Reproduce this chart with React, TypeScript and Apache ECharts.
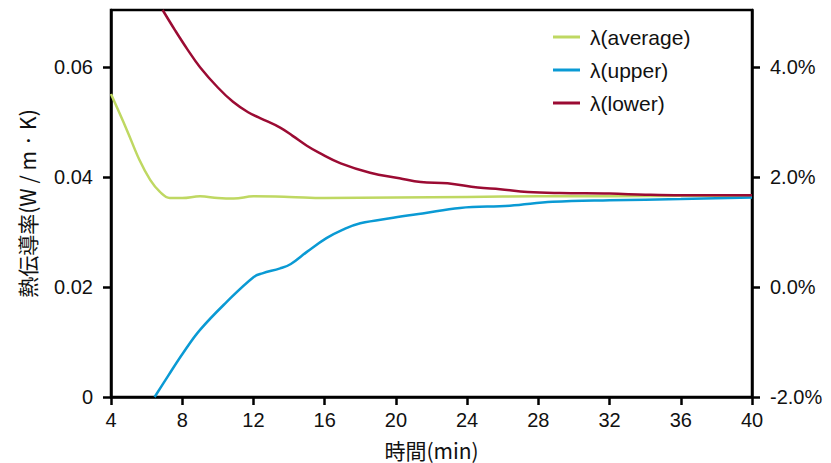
import React, { useEffect, useRef } from "react";
import * as echarts from "echarts";

const avgData: [number, number][] = [
  [4, 0.0551], [4.9, 0.0485], [5.6, 0.0431], [6.2, 0.0395], [6.75, 0.0373],
  [7.3, 0.0362], [8, 0.0362], [9, 0.0365], [10, 0.0362], [10.9, 0.0361], [12, 0.0365],
  [14, 0.0364], [16, 0.0362], [20, 0.0363], [24, 0.0364], [28, 0.0365], [32, 0.0365],
  [36, 0.0366], [40, 0.0366],
];
const upperData: [number, number][] = [
  [6.45, 0.0], [7.2, 0.0038], [8.05, 0.0080], [9, 0.0122], [10.5, 0.0173], [12, 0.0218],
  [12.5, 0.0225], [13.5, 0.0234], [14.1, 0.0242], [15, 0.0264], [16.1, 0.0289], [17, 0.0304],
  [18, 0.0316], [19.85, 0.0326], [21.5, 0.0334], [23.6, 0.0344], [26.4, 0.0348], [28.8, 0.0355],
  [32, 0.0358], [36, 0.0360], [40, 0.0363],
];
const lowerData: [number, number][] = [
  [6.9, 0.0704], [7.6, 0.0667], [8.3, 0.0632], [9, 0.0600], [10, 0.0563], [10.85, 0.0537],
  [11.7, 0.0518], [12.4, 0.0507], [13.5, 0.0490], [14.2, 0.0475], [15, 0.0457], [15.7, 0.0444],
  [16.9, 0.0425], [18.55, 0.0408], [20.2, 0.0398], [21.4, 0.0391], [22.9, 0.0389], [24.6, 0.0381],
  [25.85, 0.0378], [27.4, 0.0373], [29.2, 0.0371], [32, 0.0370], [34, 0.0368], [36, 0.0367],
  [38, 0.0367], [40, 0.0367],
];

const xTicks = [4, 8, 12, 16, 20, 24, 28, 32, 36, 40];
const leftTicks = [0, 0.02, 0.04, 0.06];
const rightTicks = [-2, 0, 2, 4];
const seriesNames = ["λ(average)", "λ(upper)", "λ(lower)"];
const colors = ["#BFD862", "#0A9AD4", "#9B0B33"];

const SANS = "'Liberation Sans', Arial, sans-serif";
const CJK = "'Noto Sans CJK JP', sans-serif";

export default function App() {
  const ref = useRef<HTMLDivElement>(null);
  useEffect(() => {
    document.body.style.margin = "0";
    if (!ref.current) return;
    const chart = echarts.init(ref.current, undefined, { renderer: "svg" });
    const axisLine = { show: true, lineStyle: { color: "#000", width: 2.5 } };
    const axisTick = { show: true, length: 8, lineStyle: { color: "#000", width: 2.5 } };
    chart.setOption({
      animation: false,
      backgroundColor: "#fff",
      grid: {
        left: 111, right: 79, top: 10, bottom: 66,
        outerBoundsMode: "none",
        containLabel: false,
        show: true, borderColor: "#000", borderWidth: 2.5, backgroundColor: "transparent",
      },
      legend: {
        show: true,
        left: 553,
        top: 26,
        padding: 0,
        orient: "vertical",
        itemWidth: 27,
        itemHeight: 3,
        itemGap: 11,
        icon: "rect",
        data: seriesNames,
        textStyle: { fontFamily: SANS, fontSize: 21, lineHeight: 22, color: "#111", padding: [0, 0, 0, 5] },
      },
      xAxis: {
        type: "value",
        min: 4, max: 40, interval: 4,
        name: "時間(min)",
        nameLocation: "middle",
        nameGap: 42,
        nameTextStyle: { fontFamily: CJK, fontSize: 21, color: "#111" },
        axisLine, axisTick: { ...axisTick, customValues: xTicks },
        splitLine: { show: false },
        axisLabel: {
          customValues: xTicks, margin: 13,
          fontFamily: SANS, fontSize: 20, color: "#111",
        },
      },
      yAxis: [
        {
          type: "value",
          min: 0, max: 0.0704,
          position: "left",
          name: "熱伝導率(W / m · K)",
          nameLocation: "middle",
          nameGap: 74,
          nameTextStyle: { fontFamily: CJK, fontSize: 21, color: "#111" },
          axisLine, axisTick: { ...axisTick, customValues: leftTicks },
          splitLine: { show: false },
          axisLabel: {
            customValues: leftTicks, margin: 18,
            fontFamily: SANS, fontSize: 20, color: "#111",
            formatter: (v: number) => (v === 0 ? "0" : v.toFixed(2)),
          },
        },
        {
          type: "value",
          min: -2, max: 5.04,
          position: "right",
          axisLine, axisTick: { ...axisTick, customValues: rightTicks },
          splitLine: { show: false },
          axisLabel: {
            customValues: rightTicks, margin: 18,
            fontFamily: SANS, fontSize: 20, color: "#111",
            formatter: (v: number) => v.toFixed(1) + "%",
          },
        },
      ],
      series: [
        { name: seriesNames[0], type: "line", data: avgData, smooth: 0.4, showSymbol: false, yAxisIndex: 0, lineStyle: { width: 2.5, color: colors[0] }, itemStyle: { color: colors[0] } },
        { name: seriesNames[1], type: "line", data: upperData, smooth: 0.4, showSymbol: false, yAxisIndex: 0, lineStyle: { width: 2.5, color: colors[1] }, itemStyle: { color: colors[1] } },
        { name: seriesNames[2], type: "line", data: lowerData, smooth: 0.4, showSymbol: false, yAxisIndex: 0, clip: true, lineStyle: { width: 2.5, color: colors[2] }, itemStyle: { color: colors[2] } },
      ],
    });
    return () => chart.dispose();
  }, []);
  return <div ref={ref} style={{ width: 831, height: 463 }} />;
}
